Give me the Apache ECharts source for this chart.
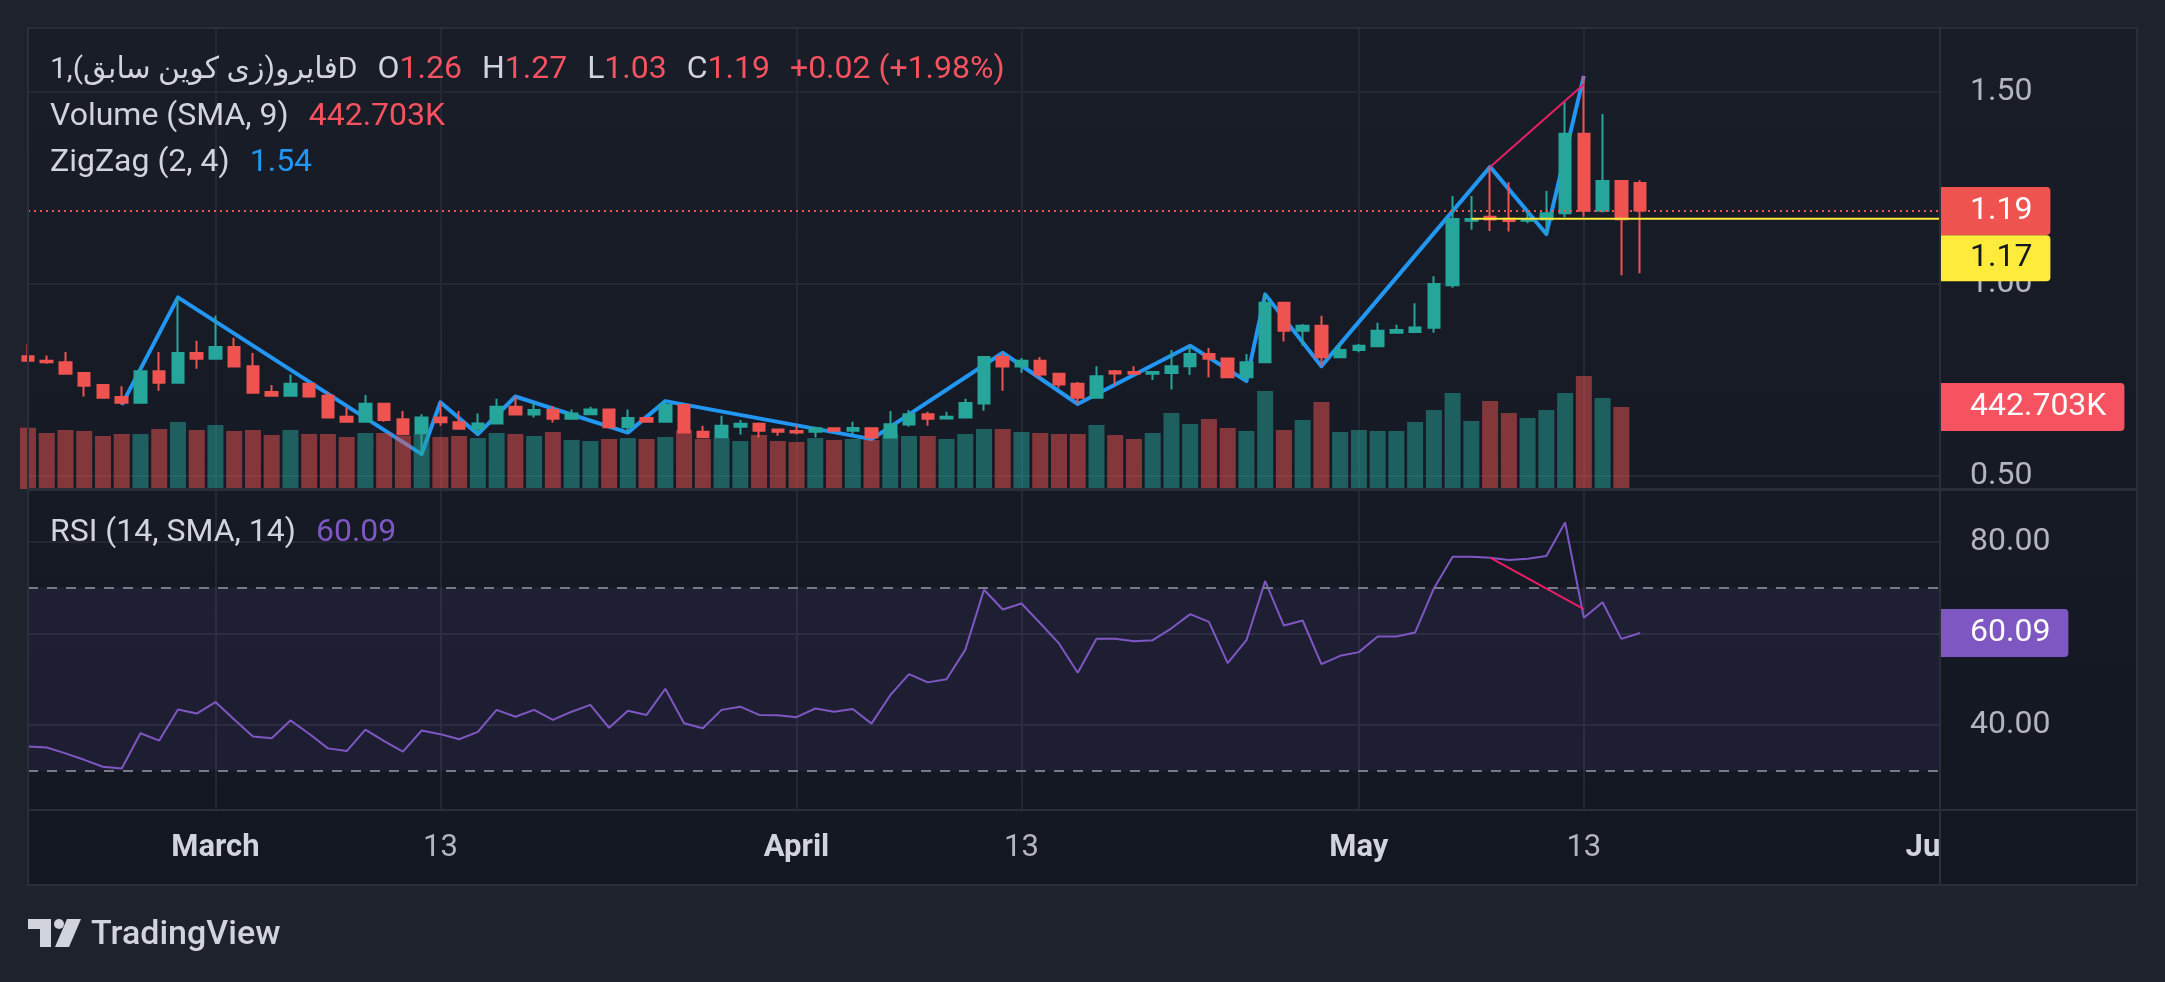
<!DOCTYPE html>
<html>
<head>
<meta charset="utf-8">
<title>فایرو 1D</title>
<script src="https://cdn.jsdelivr.net/npm/echarts@6/dist/echarts.min.js"></script>
<style>
html,body{margin:0;padding:0;background:#1e222d;}
#chart{width:2165px;height:982px;}
</style>
</head>
<body>
<div id="chart"></div>
<script>
// daily candles from 2024-02-20, axis runs on to 2024-06-01
var firstDay = '2024-02-20';
var dayCount = 103;

var openPrice = [0.812,0.800,0.796,0.768,0.737,0.706,0.691,0.773,0.743,0.820,
  0.805,0.836,0.786,0.719,0.709,0.740,0.709,0.654,0.641,0.688,
  0.648,0.611,0.652,0.640,0.623,0.637,0.680,0.660,0.672,0.649,
  0.661,0.673,0.627,0.651,0.641,0.685,0.615,0.601,0.628,0.636,
  0.621,0.617,0.615,0.624,0.618,0.624,0.600,0.634,0.661,0.650,
  0.652,0.689,0.810,0.785,0.800,0.766,0.740,0.704,0.773,0.771,
  0.766,0.768,0.786,0.818,0.806,0.757,0.796,0.951,0.878,0.891,
  0.809,0.828,0.838,0.873,0.875,0.886,0.997,1.165,1.175,1.170,
  1.165,1.168,1.184,1.391,1.191,1.268,1.263];
var highPrice = [0.844,0.814,0.823,0.771,0.737,0.734,0.783,0.823,0.965,0.852,
  0.917,0.860,0.820,0.737,0.764,0.740,0.720,0.679,0.711,0.688,
  0.669,0.661,0.692,0.669,0.663,0.701,0.707,0.693,0.682,0.673,
  0.680,0.673,0.673,0.651,0.695,0.688,0.631,0.657,0.646,0.639,
  0.623,0.632,0.628,0.627,0.641,0.624,0.669,0.672,0.667,0.667,
  0.701,0.810,0.821,0.807,0.810,0.766,0.745,0.786,0.776,0.786,
  0.771,0.828,0.839,0.833,0.806,0.818,0.973,0.951,0.896,0.917,
  0.845,0.844,0.899,0.894,0.950,1.020,1.229,1.229,1.305,1.265,
  1.188,1.242,1.475,1.542,1.443,1.268,1.270];
var lowPrice = [0.800,0.792,0.766,0.707,0.704,0.686,0.690,0.722,0.743,0.779,
  0.805,0.783,0.717,0.709,0.709,0.704,0.652,0.641,0.640,0.641,
  0.609,0.557,0.631,0.623,0.609,0.636,0.660,0.652,0.639,0.649,
  0.661,0.627,0.613,0.641,0.641,0.613,0.601,0.601,0.608,0.600,
  0.605,0.609,0.600,0.615,0.607,0.596,0.598,0.628,0.631,0.647,
  0.652,0.670,0.722,0.769,0.755,0.730,0.688,0.703,0.736,0.766,
  0.750,0.725,0.763,0.757,0.757,0.747,0.796,0.850,0.839,0.786,
  0.807,0.822,0.838,0.871,0.875,0.873,0.990,1.141,1.138,1.137,
  1.158,1.130,1.174,1.175,1.186,1.023,1.028];
var closePrice = [0.800,0.796,0.766,0.735,0.704,0.691,0.773,0.743,0.820,0.805,
  0.836,0.785,0.717,0.709,0.740,0.707,0.652,0.641,0.688,0.646,
  0.609,0.652,0.640,0.623,0.637,0.680,0.660,0.672,0.649,0.663,
  0.673,0.627,0.651,0.641,0.685,0.613,0.601,0.631,0.636,0.618,
  0.615,0.613,0.624,0.618,0.625,0.600,0.635,0.661,0.649,0.654,
  0.690,0.810,0.785,0.800,0.764,0.738,0.704,0.760,0.767,0.766,
  0.771,0.786,0.818,0.805,0.757,0.796,0.951,0.878,0.891,0.809,
  0.828,0.839,0.878,0.880,0.887,1.000,1.169,1.169,1.168,1.164,
  1.169,1.184,1.391,1.191,1.268,1.1683,1.1914];
// no bar yet for the last day
var volume = [331000,302000,319000,313000,286000,297000,297000,324000,362000,319000,
  346000,313000,319000,292000,319000,297000,297000,281000,302000,302000,
  286000,297000,281000,286000,275000,302000,297000,286000,308000,265000,
  259000,270000,275000,270000,281000,319000,270000,275000,259000,292000,
  259000,254000,275000,265000,270000,265000,297000,286000,286000,270000,
  297000,324000,324000,308000,302000,297000,297000,346000,292000,270000,
  302000,410000,351000,378000,329000,313000,529000,319000,373000,470000,
  308000,319000,313000,313000,362000,427000,518000,367000,475000,410000,
  383000,427000,518000,610000,491000,442703];
var rsi = [35.3,35.1,33.8,32.4,30.9,30.5,38.2,36.6,43.4,42.5,
  45.0,41.2,37.5,37.1,41.0,38.1,34.9,34.3,39.0,36.5,
  34.2,38.8,38.0,36.9,38.5,43.3,41.8,43.3,41.1,42.9,
  44.4,39.4,43.1,42.2,47.9,40.4,39.3,43.3,44.0,42.2,
  42.1,41.7,43.6,42.9,43.5,40.3,46.5,51.1,49.3,50.0,
  56.4,69.5,65.2,66.5,62.2,57.8,51.4,58.8,58.8,58.3,
  58.5,61.1,64.2,62.5,53.5,58.5,71.4,61.7,62.8,53.3,
  55.1,55.9,59.3,59.3,60.2,69.8,76.7,76.7,76.5,76.0,
  76.3,76.9,84.2,63.4,66.8,58.8,60.09];
var zigzagDay = [5,8,21,22,24,26,32,34,45,52,56,62,65,66,69,78,81,83];
var zigzagPrice = [0.685,0.965,0.557,0.692,0.609,0.707,0.613,0.695,0.596,0.821,0.6875,0.839,0.747,0.973,0.786,1.305,1.130,1.542];
var priceDivergence = [[78, 1.305], [83, 1.52]];
var rsiDivergence = [[78, 76.5], [83, 65.3]];
var levelLine = [[77, 1.17], [102, 1.17]];
var tickDays = ['2024-03-01','2024-03-13','2024-04-01','2024-04-13','2024-05-01','2024-05-13','2024-06-01'];
var tickLabels = ['March','13','April','13','May','13','June'];
var priceTicks = [0.5, 1.0, 1.5];
var rsiTicks = [40, 60, 80];
var rsiLabelTicks = [40, 80];

var font = 'Roboto, "DejaVu Sans", sans-serif';
var textGray = '#b2b5be';
var textLight = '#d1d4dc';
var gridColor = '#242834';
var frameColor = '#2a2e39';
var upColor = '#26a69a';
var downColor = '#ef5350';
var hiddenLine = { color: 'rgba(0,0,0,0)', width: 0 };

var dates = [];
for (var i = 0; i < dayCount; i++) {
  dates.push(new Date(Date.parse(firstDay) + i * 86400000).toISOString().slice(0, 10));
}
var tickLabelOf = {};
tickDays.forEach(function (d, k) { tickLabelOf[d] = tickLabels[k]; });
function isTick(idx, val) { return tickLabelOf[val] !== undefined; }

var candles = openPrice.map(function (o, k) { return [o, closePrice[k], lowPrice[k], highPrice[k]]; });
var volumeBars = volume.map(function (v, k) {
  return { value: v, itemStyle: { color: closePrice[k] >= openPrice[k] ? 'rgba(38,166,154,0.5)' : 'rgba(239,83,80,0.5)' } };
});
var zigzag = zigzagDay.map(function (d, k) { return [d, zigzagPrice[k]]; });

var n = closePrice.length;
var lastClose = closePrice[n - 1], prevClose = closePrice[n - 2];
var change = lastClose - prevClose;
var lastVolume = volume[volume.length - 1];
var lastRsi = rsi[rsi.length - 1];

// scale extents chosen so the pane pixels line up with the reference
var priceAxisMin = 0.4661, priceAxisMax = 1.6667;
var volumeAxisMax = 2489000;
var rsiAxisMin = 21.45, rsiAxisMax = 91.28;

function boxLabel(bg, fg, text) {
  return {
    show: true, position: 'end', distance: 0, formatter: text,
    backgroundColor: bg, color: fg, fontFamily: font, fontSize: 32, fontWeight: 'normal', lineHeight: 34,
    padding: [7, 18, 7, 30], borderRadius: [0, 4, 4, 0]
  };
}

function xAxisFor(gridIndex, withLabels) {
  return {
    type: 'category', gridIndex: gridIndex, data: dates, boundaryGap: false,
    axisLine: { show: false }, axisTick: { show: false },
    splitLine: { show: true, interval: isTick, lineStyle: { color: gridColor, width: 2 } },
    axisLabel: withLabels ? {
      show: true, interval: isTick, margin: 20,
      formatter: function (val) {
        var t = tickLabelOf[val];
        return /^\d+$/.test(t) ? '{d|' + t + '}' : '{m|' + t + '}';
      },
      rich: {
        d: { color: textGray, fontSize: 31, fontFamily: font, lineHeight: 36 },
        m: { color: textLight, fontSize: 31, fontFamily: font, fontWeight: 'bold', lineHeight: 36 }
      }
    } : { show: false }
  };
}

function tok(color, size) { return { color: color, fontSize: size || 32, fontFamily: font, fontWeight: 'normal', lineHeight: 40 }; }
var legendRich = {
  s: tok(textLight), a: tok(textLight, 30), v: tok('#f7525f'), b: tok('#2196f3'), p: tok('#7e57c2'),
  g: { width: 20, fontSize: 32, lineHeight: 40 }
};
var legendStyle = { fontWeight: 'normal', fontFamily: font, fontSize: 32, rich: legendRich };
function f2(x) { return x.toFixed(2); }
var ohlcText = '{a|فایرو(زی کوین سابق),1D}{g| }' +
  '{s|O}{v|' + f2(openPrice[n - 1]) + '}{g| }' +
  '{s|H}{v|' + f2(highPrice[n - 1]) + '}{g| }' +
  '{s|L}{v|' + f2(lowPrice[n - 1]) + '}{g| }' +
  '{s|C}{v|' + f2(lastClose) + '}{g| }' +
  '{v|' + (change >= 0 ? '+' : '') + f2(change) + ' (' + (change >= 0 ? '+' : '') + f2(change / prevClose * 100) + '%)}';

var bgGradient = new echarts.graphic.LinearGradient(0, 0, 0, 1, [
  { offset: 0, color: '#191d28' }, { offset: 1, color: '#131722' }
]);

var chart = echarts.init(document.getElementById('chart'), null, { width: 2165, height: 982 });
chart.setOption({
  animation: false,
  backgroundColor: '#1e222d',
  title: [
    { left: 50, top: 50, padding: 0, text: ohlcText, textStyle: legendStyle },
    { left: 50, top: 97, padding: 0, text: '{s|Volume (SMA, 9)}{g| }{v|' + (lastVolume / 1000).toFixed(3) + 'K}', textStyle: legendStyle },
    { left: 50, top: 143, padding: 0, text: '{s|ZigZag (2, 4)}{g| }{b|' + f2(zigzagPrice[zigzagPrice.length - 1]) + '}', textStyle: legendStyle },
    { left: 50, top: 513, padding: 0, text: '{s|RSI (14, SMA, 14)}{g| }{p|' + f2(lastRsi) + '}', textStyle: legendStyle }
  ],
  grid: [
    { left: 28, top: 28, width: 1912, height: 461, outerBoundsMode: 'none' },
    { left: 28, top: 490, width: 1912, height: 320, outerBoundsMode: 'none' }
  ],
  xAxis: [xAxisFor(0, false), xAxisFor(1, true)],
  yAxis: [
    {
      type: 'value', gridIndex: 0, position: 'right', min: priceAxisMin, max: priceAxisMax,
      axisLine: { show: false },
      axisTick: { show: false, customValues: priceTicks },
      axisLabel: { customValues: priceTicks, margin: 30, color: textGray, fontSize: 32, fontFamily: font, formatter: f2 },
      splitLine: { show: true, lineStyle: { color: gridColor, width: 2 } }
    },
    { type: 'value', gridIndex: 0, min: 0, max: volumeAxisMax, show: false, splitLine: { show: false } },
    {
      type: 'value', gridIndex: 1, position: 'right', min: rsiAxisMin, max: rsiAxisMax,
      axisLine: { show: false },
      axisTick: { show: false, customValues: rsiTicks },
      axisLabel: { customValues: rsiLabelTicks, margin: 30, color: textGray, fontSize: 32, fontFamily: font, formatter: f2 },
      splitLine: { show: true, lineStyle: { color: gridColor, width: 2 } }
    }
  ],
  series: [
    {
      name: 'ZigZag', type: 'line', xAxisIndex: 0, yAxisIndex: 0, data: zigzag, z: 1,
      symbol: 'none', lineStyle: { color: '#2196f3', width: 4, join: 'round' }
    },
    {
      name: 'Volume', type: 'bar', xAxisIndex: 0, yAxisIndex: 1, data: volumeBars, z: 2, barWidth: 16,
      markLine: {
        silent: true, symbol: ['none', 'none'],
        lineStyle: hiddenLine,
        label: boxLabel('#f7525f', '#ffffff', (lastVolume / 1000).toFixed(3) + 'K'),
        data: [{ yAxis: lastVolume }]
      }
    },
    {
      name: 'Price', type: 'candlestick', xAxisIndex: 0, yAxisIndex: 0, data: candles, z: 3, barWidth: 12,
      itemStyle: { color: upColor, color0: downColor, borderColor: upColor, borderColor0: downColor, borderWidth: 2 },
      markLine: {
        silent: true, symbol: ['none', 'none'],
        lineStyle: { color: downColor, type: [2, 4], width: 2 },
        label: boxLabel(downColor, '#ffffff', f2(lastClose)),
        data: [{ yAxis: lastClose }]
      }
    },
    {
      name: 'Level', type: 'line', xAxisIndex: 0, yAxisIndex: 0, data: levelLine, z: 4,
      symbol: 'none', lineStyle: { color: '#ffeb3b', width: 2 },
      markLine: {
        silent: true, symbol: ['none', 'none'],
        lineStyle: hiddenLine,
        label: {
          show: true, position: 'end', distance: 0,
          formatter: '{gap| }\n{box|' + f2(levelLine[0][1]) + '}',
          rich: {
            gap: { height: 79, lineHeight: 79, fontSize: 10 },
            box: { backgroundColor: '#ffeb3b', color: '#131722', fontFamily: font, fontSize: 32, lineHeight: 34, padding: [7, 18, 7, 30], borderRadius: [0, 4, 4, 0] }
          }
        },
        data: [{ yAxis: levelLine[0][1] }]
      }
    },
    {
      name: 'Divergence', type: 'line', xAxisIndex: 0, yAxisIndex: 0, data: priceDivergence, z: 4,
      symbol: 'none', lineStyle: { color: '#e91e63', width: 2 }
    },
    {
      name: 'RSI', type: 'line', xAxisIndex: 1, yAxisIndex: 2, data: rsi, z: 3,
      symbol: 'none', lineStyle: { color: '#7e57c2', width: 2 },
      markArea: {
        silent: true, itemStyle: { color: 'rgba(126,87,194,0.1)' },
        data: [[{ yAxis: 70 }, { yAxis: 30 }]]
      },
      markLine: {
        silent: true, symbol: ['none', 'none'],
        label: { show: false },
        data: [
          { yAxis: 70, lineStyle: { color: '#787b86', type: [10, 9], width: 2 } },
          { yAxis: 30, lineStyle: { color: '#787b86', type: [10, 9], width: 2 } },
          { yAxis: lastRsi, lineStyle: hiddenLine, label: boxLabel('#7e57c2', '#ffffff', f2(lastRsi)) }
        ]
      }
    },
    {
      name: 'RSI Divergence', type: 'line', xAxisIndex: 1, yAxisIndex: 2, data: rsiDivergence, z: 4,
      symbol: 'none', lineStyle: { color: '#e91e63', width: 2 }
    }
  ],
  graphic: [
    { type: 'rect', z: -100, silent: true, shape: { x: 28, y: 28, width: 2109, height: 857 }, style: { fill: bgGradient } },
    { type: 'rect', z: 45, silent: true, shape: { x: 1941, y: 811, width: 195, height: 73 }, style: { fill: '#131722' } },
    { type: 'rect', z: 50, silent: true, shape: { x: 28, y: 28, width: 2109, height: 857 }, style: { fill: 'none', stroke: frameColor, lineWidth: 2 } },
    { type: 'line', z: 50, silent: true, shape: { x1: 1940, y1: 28, x2: 1940, y2: 885 }, style: { stroke: frameColor, lineWidth: 2 } },
    { type: 'line', z: 50, silent: true, shape: { x1: 28, y1: 489.5, x2: 2137, y2: 489.5 }, style: { stroke: frameColor, lineWidth: 3 } },
    { type: 'line', z: 50, silent: true, shape: { x1: 28, y1: 810, x2: 2137, y2: 810 }, style: { stroke: frameColor, lineWidth: 2 } },
    // TradingView mark
    { type: 'polygon', silent: true, shape: { points: [[28, 919], [51, 919], [51, 947], [40, 947], [40, 929], [28, 929]] }, style: { fill: textLight } },
    { type: 'circle', silent: true, shape: { cx: 59, cy: 924, r: 5 }, style: { fill: textLight } },
    { type: 'polygon', silent: true, shape: { points: [[67, 919], [81, 919], [69, 947], [55, 947]] }, style: { fill: textLight } },
    { type: 'text', silent: true, x: 91, y: 935, style: { text: 'TradingView', fill: textLight, font: '500 34px ' + font, textVerticalAlign: 'middle' } }
  ]
});
</script>
</body>
</html>
